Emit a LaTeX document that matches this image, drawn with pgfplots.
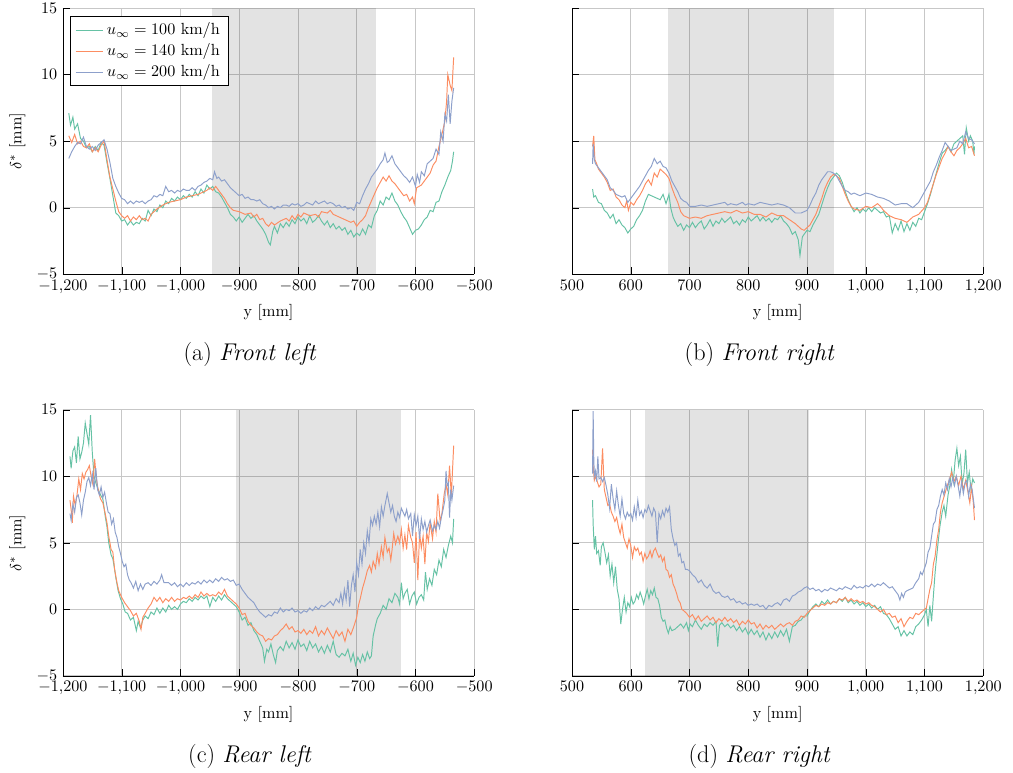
\documentclass[border=0pt]{standalone}
\usepackage{pgfplots}
\pgfplotsset{compat=1.18}
\definecolor{sga}{HTML}{66C2A5}
\definecolor{sgb}{HTML}{FC8D62}
\definecolor{sgc}{HTML}{8DA0CB}
\newcommand{\capfont}{\fontsize{15}{18}\selectfont}
\pgfplotsset{
  myax/.style={width=255pt, height=165pt, scale only axis,
    ymin=-5, ymax=15, ytick={-5,0,5,10,15},
    grid=major, major grid style={black!22, line width=0.5pt},
    axis x line*=bottom, axis y line*=left, axis line style={-},
    xlabel={y [mm]}, tick style={black}},
  c1/.style={color=sga, line width=0.6pt},
  c2/.style={color=sgb, line width=0.6pt},
  c3/.style={color=sgc, line width=0.6pt},
}
\begin{document}
\begin{tikzpicture}
\useasboundingbox (0,0) rectangle (628pt,-479pt);
% (a) Front left
\begin{axis}[myax, at={(39pt,-170pt)}, anchor=south west,
  xmin=-1200, xmax=-500, xtick={-1200,-1100,...,-500},
  ylabel={$\delta^*$ [mm]},
  legend style={at={(0.017,0.97)}, anchor=north west, draw=black, cells={anchor=west}, font=\normalsize}]
\fill[black, fill opacity=0.11] (axis cs:-947,-5) rectangle (axis cs:-667,15);
\addplot[c1] coordinates {(-1190,7.1)(-1187,6.2)(-1183,6.8)(-1180,5.9)(-1175,6.3)(-1170,5.2)(-1165,5.0)(-1160,4.5)(-1155,4.6)(-1150,4.2)(-1145,4.6)(-1140,4.3)(-1135,4.9)(-1130,4.7)(-1125,3.4)(-1120,2.2)(-1115,0.9)(-1110,-0.4)(-1105,-0.6)(-1100,-1.0)(-1095,-0.9)(-1090,-1.3)(-1085,-1.0)(-1080,-1.3)(-1075,-1.1)(-1070,-1.2)(-1065,-0.8)(-1060,-1.0)(-1055,-0.2)(-1050,-0.6)(-1045,-0.1)(-1040,-0.3)(-1035,0.2)(-1030,0.0)(-1025,0.5)(-1020,0.3)(-1015,0.7)(-1010,0.5)(-1005,0.8)(-1000,0.6)(-995,0.9)(-990,0.7)(-985,1.0)(-980,0.8)(-975,1.2)(-970,0.9)(-965,1.4)(-960,1.1)(-955,1.7)(-950,1.4)(-945,1.6)(-940,1.2)(-935,1.1)(-930,0.8)(-925,0.4)(-920,0.0)(-915,-0.5)(-910,-0.7)(-905,-1.0)(-900,-0.7)(-895,-1.1)(-890,-0.8)(-885,-0.5)(-880,-0.8)(-875,-0.6)(-870,-1.0)(-865,-1.3)(-860,-1.6)(-855,-2.0)(-850,-2.6)(-847,-2.8)(-843,-1.8)(-840,-1.4)(-835,-1.9)(-830,-1.2)(-825,-1.5)(-820,-1.1)(-815,-1.4)(-810,-0.9)(-805,-1.2)(-800,-0.7)(-795,-1.0)(-790,-0.8)(-785,-1.2)(-780,-0.6)(-775,-1.1)(-770,-0.9)(-765,-0.6)(-760,-1.0)(-755,-1.3)(-750,-1.0)(-745,-1.5)(-740,-1.2)(-735,-1.6)(-730,-1.4)(-725,-1.7)(-720,-1.5)(-715,-2.0)(-710,-1.7)(-705,-2.2)(-700,-1.9)(-695,-2.1)(-690,-1.6)(-685,-2.0)(-680,-1.3)(-675,-1.5)(-670,-0.6)(-665,-0.2)(-660,0.5)(-655,0.2)(-650,0.8)(-645,0.6)(-640,1.1)(-635,0.5)(-630,0.2)(-625,-0.3)(-620,-0.7)(-615,-1.0)(-610,-1.5)(-605,-2.0)(-600,-1.7)(-595,-1.6)(-590,-1.3)(-585,-0.9)(-580,-0.7)(-575,-0.2)(-570,-0.3)(-565,0.4)(-560,0.5)(-555,1.2)(-550,1.7)(-545,2.3)(-540,2.8)(-537,3.5)(-535,4.2)};
\addlegendentry{$u_\infty = 100$ km/h}
\addplot[c2] coordinates {(-1190,5.4)(-1185,4.9)(-1180,5.5)(-1175,4.8)(-1170,5.0)(-1165,4.6)(-1160,4.5)(-1155,4.8)(-1150,4.2)(-1145,4.5)(-1140,4.2)(-1135,4.7)(-1130,5.0)(-1125,3.6)(-1120,2.3)(-1115,1.4)(-1110,0.5)(-1105,-0.3)(-1100,-0.6)(-1095,-0.8)(-1090,-0.6)(-1085,-1.0)(-1080,-0.7)(-1075,-0.9)(-1070,-0.6)(-1065,-0.9)(-1060,-0.8)(-1055,-1.0)(-1050,-0.5)(-1045,-0.3)(-1040,-0.1)(-1030,0.2)(-1020,0.4)(-1010,0.5)(-1000,0.6)(-990,0.8)(-980,0.9)(-970,1.0)(-960,1.2)(-955,1.3)(-950,1.5)(-945,1.3)(-940,1.6)(-935,1.3)(-930,1.0)(-925,0.7)(-920,0.3)(-915,0.0)(-910,-0.2)(-900,-0.3)(-890,-0.5)(-880,-0.4)(-875,-0.7)(-870,-0.5)(-865,-0.9)(-860,-0.8)(-855,-1.2)(-850,-1.4)(-845,-1.1)(-840,-1.3)(-830,-1.0)(-820,-0.8)(-815,-1.0)(-810,-0.6)(-805,-0.9)(-800,-0.5)(-795,-0.7)(-790,-0.4)(-780,-0.6)(-770,-0.5)(-765,-0.7)(-760,-0.3)(-750,-0.4)(-745,-0.2)(-740,-0.5)(-730,-0.7)(-720,-0.9)(-710,-1.1)(-705,-1.0)(-700,-1.4)(-695,-1.1)(-690,-0.9)(-685,-0.6)(-680,0.0)(-675,0.5)(-670,1.0)(-665,1.5)(-660,1.9)(-655,2.3)(-650,2.0)(-645,2.4)(-640,2.0)(-635,1.8)(-630,1.5)(-625,1.2)(-620,0.9)(-615,1.0)(-610,0.5)(-605,0.8)(-602,0.3)(-598,1.5)(-590,1.7)(-585,2.0)(-580,2.3)(-575,2.6)(-570,3.2)(-565,3.5)(-560,4.6)(-555,5.5)(-550,6.5)(-547,8.0)(-545,10.0)(-541,9.2)(-538,8.8)(-535,11.3)};
\addlegendentry{$u_\infty = 140$ km/h}
\addplot[c3] coordinates {(-1190,3.7)(-1185,4.2)(-1180,4.6)(-1175,4.9)(-1170,4.8)(-1165,5.3)(-1160,4.6)(-1155,4.4)(-1150,4.6)(-1145,4.3)(-1140,4.7)(-1135,4.9)(-1130,5.1)(-1125,4.4)(-1120,3.4)(-1115,2.2)(-1110,1.6)(-1105,1.1)(-1100,0.7)(-1095,0.6)(-1090,0.3)(-1085,0.5)(-1080,0.3)(-1075,0.5)(-1070,0.4)(-1065,0.5)(-1060,0.3)(-1055,0.5)(-1050,0.6)(-1045,0.9)(-1040,0.8)(-1035,1.0)(-1030,0.9)(-1025,1.6)(-1020,1.2)(-1015,1.3)(-1010,1.1)(-1005,1.3)(-1000,1.2)(-995,1.4)(-990,1.3)(-985,1.3)(-980,1.5)(-975,1.3)(-970,1.6)(-965,1.7)(-960,1.9)(-955,2.0)(-950,2.2)(-945,2.1)(-942,2.7)(-938,2.2)(-935,2.3)(-930,2.0)(-925,2.1)(-920,1.8)(-915,1.5)(-910,1.3)(-905,1.1)(-900,0.9)(-895,1.0)(-890,0.7)(-885,0.8)(-880,0.6)(-875,0.6)(-870,0.5)(-865,0.6)(-860,0.3)(-855,0.2)(-850,0.0)(-845,0.1)(-840,-0.1)(-835,0.1)(-830,0.0)(-825,0.2)(-820,0.2)(-815,0.1)(-810,0.3)(-805,0.2)(-800,0.3)(-795,0.1)(-790,0.2)(-785,0.4)(-780,0.3)(-775,0.2)(-770,0.5)(-765,0.3)(-760,0.4)(-755,0.5)(-750,0.3)(-745,0.4)(-740,0.3)(-735,0.1)(-730,0.2)(-725,0.0)(-720,0.1)(-715,-0.1)(-710,0.0)(-705,-0.2)(-700,0.4)(-695,0.3)(-690,0.9)(-685,1.4)(-680,1.8)(-675,2.3)(-670,2.6)(-665,2.9)(-660,3.3)(-655,3.6)(-652,4.1)(-648,3.4)(-645,3.5)(-640,3.9)(-635,3.3)(-630,3.0)(-625,2.7)(-620,2.4)(-615,2.2)(-610,1.9)(-605,2.3)(-600,1.6)(-597,2.5)(-593,1.9)(-590,2.7)(-585,2.4)(-580,3.3)(-575,3.5)(-570,3.7)(-565,4.4)(-560,4.0)(-557,5.7)(-553,5.0)(-550,7.0)(-547,6.5)(-544,8.5)(-541,6.3)(-538,8.0)(-535,9.0)};
\addlegendentry{$u_\infty = 200$ km/h}
\end{axis}
% (b) Front right
\begin{axis}[myax, at={(354.6pt,-170pt)}, anchor=south west,
  xmin=500, xmax=1200, xtick={500,600,...,1200}, yticklabels={}]
\fill[black, fill opacity=0.11] (axis cs:664,-5) rectangle (axis cs:946,15);
\addplot[c1] coordinates {(535,1.4)(537,0.8)(540,0.9)(545,0.4)(550,0.3)(555,-0.2)(560,-0.4)(565,-0.8)(570,-0.5)(575,-1.2)(580,-0.9)(585,-1.3)(590,-1.5)(595,-1.9)(600,-1.6)(605,-1.4)(610,-0.9)(615,-0.6)(620,-0.2)(625,0.5)(630,1.0)(640,0.8)(650,0.6)(655,1.0)(660,0.3)(665,1.0)(668,0.0)(672,-0.7)(675,-1.0)(680,-1.4)(685,-1.2)(690,-1.7)(695,-1.3)(700,-1.5)(705,-1.1)(710,-1.5)(715,-1.2)(720,-1.0)(725,-1.6)(730,-1.3)(735,-0.9)(740,-1.4)(745,-1.0)(750,-1.2)(755,-0.8)(760,-1.1)(765,-0.9)(770,-0.7)(775,-1.2)(780,-1.0)(785,-1.3)(790,-0.9)(795,-1.1)(800,-0.7)(805,-1.0)(810,-0.8)(815,-0.6)(820,-1.0)(825,-0.7)(830,-1.0)(835,-0.8)(840,-1.1)(845,-0.8)(850,-0.9)(855,-0.6)(860,-1.0)(865,-1.2)(870,-1.5)(875,-2.0)(880,-1.8)(885,-2.4)(888,-3.6)(892,-2.2)(895,-2.0)(900,-1.7)(905,-1.8)(910,-1.3)(915,-0.9)(920,-0.5)(925,0.2)(930,0.9)(935,1.5)(940,2.0)(945,2.3)(950,2.6)(955,2.4)(960,1.9)(965,1.2)(970,0.6)(975,0.1)(980,-0.3)(985,0.0)(990,-0.4)(995,-0.1)(1000,-0.3)(1005,0.0)(1010,-0.3)(1015,0.0)(1020,-0.2)(1025,-0.4)(1030,-0.3)(1035,-0.7)(1040,-0.6)(1045,-1.9)(1050,-1.2)(1055,-1.7)(1060,-1.0)(1065,-1.8)(1070,-1.2)(1075,-1.7)(1080,-1.1)(1085,-1.4)(1090,-0.8)(1095,-0.9)(1100,-0.3)(1105,0.3)(1110,1.0)(1115,1.8)(1120,2.6)(1125,3.4)(1130,4.1)(1135,4.3)(1140,4.6)(1145,4.2)(1150,4.8)(1155,5.0)(1160,5.2)(1165,5.4)(1168,4.0)(1171,6.0)(1175,5.0)(1178,5.4)(1182,5.0)(1184,4.0)(1185,4.6)};
\addplot[c2] coordinates {(535,4.6)(537,5.4)(539,3.6)(542,3.3)(545,2.9)(550,2.6)(555,2.3)(560,1.9)(565,1.3)(570,1.4)(575,0.8)(580,0.6)(585,0.2)(590,0.0)(593,0.5)(596,-0.2)(600,0.4)(605,0.2)(610,0.6)(615,0.9)(620,1.3)(625,1.8)(630,2.1)(635,1.7)(640,2.6)(645,2.3)(650,2.9)(655,2.7)(660,2.5)(665,2.2)(670,1.5)(675,0.9)(680,0.4)(685,-0.3)(690,-0.6)(700,-0.8)(710,-0.7)(720,-0.8)(730,-0.6)(740,-0.5)(750,-0.4)(760,-0.3)(770,-0.4)(780,-0.2)(790,-0.4)(800,-0.3)(810,-0.5)(820,-0.5)(830,-0.7)(840,-0.4)(850,-0.6)(860,-0.6)(870,-0.9)(880,-1.2)(890,-1.6)(895,-1.7)(900,-1.5)(905,-1.3)(910,-0.9)(915,-0.5)(920,0.1)(925,0.7)(930,1.4)(935,1.9)(940,2.3)(945,2.5)(950,2.4)(955,2.2)(960,1.6)(965,1.0)(970,0.5)(975,0.1)(980,-0.1)(990,-0.2)(1000,0.1)(1010,0.0)(1020,0.3)(1025,0.1)(1030,-0.2)(1040,-0.6)(1050,-0.8)(1060,-0.9)(1070,-1.1)(1080,-0.7)(1090,-0.5)(1100,0.0)(1105,0.4)(1110,1.1)(1115,1.8)(1120,2.5)(1125,3.1)(1130,3.7)(1135,4.1)(1140,4.6)(1145,4.2)(1150,3.9)(1155,4.3)(1160,4.5)(1165,4.8)(1170,5.2)(1175,4.5)(1180,4.6)(1185,3.9)};
\addplot[c3] coordinates {(535,3.3)(536,4.8)(538,3.6)(540,3.3)(545,3.0)(550,2.7)(555,2.4)(560,2.1)(565,1.5)(570,1.3)(575,1.0)(580,0.9)(585,0.8)(590,0.9)(595,0.4)(600,0.7)(605,1.0)(610,1.3)(615,1.6)(620,2.0)(625,2.4)(630,2.8)(635,3.1)(640,3.7)(645,3.3)(650,3.5)(655,3.1)(660,3.0)(665,2.6)(670,2.0)(675,1.6)(680,1.2)(685,0.7)(690,0.5)(695,0.4)(700,0.1)(710,0.1)(720,0.2)(730,0.1)(740,0.2)(750,0.3)(760,0.4)(765,0.2)(770,0.3)(780,0.2)(790,0.4)(795,0.2)(800,0.3)(810,0.2)(820,0.4)(830,0.3)(840,0.2)(850,0.3)(860,0.2)(870,0.0)(880,-0.4)(890,-0.4)(900,-0.2)(905,0.2)(910,0.7)(915,1.1)(920,1.7)(925,2.1)(930,2.4)(935,2.7)(940,2.7)(945,2.6)(950,2.4)(955,2.0)(960,1.6)(965,1.3)(970,1.2)(975,1.0)(980,1.1)(990,0.9)(1000,1.1)(1010,1.0)(1020,0.8)(1030,0.7)(1040,0.5)(1050,0.2)(1060,0.3)(1070,0.3)(1080,0.0)(1090,0.4)(1095,0.8)(1100,1.2)(1105,1.6)(1110,2.0)(1115,2.7)(1120,3.2)(1125,3.8)(1130,4.3)(1135,4.9)(1140,4.6)(1145,4.3)(1150,4.4)(1155,4.5)(1160,5.0)(1165,4.8)(1170,5.7)(1175,5.2)(1180,5.1)(1185,4.8)};
\end{axis}
% (c) Rear left
\begin{axis}[myax, at={(39pt,-419pt)}, anchor=south west,
  xmin=-1200, xmax=-500, xtick={-1200,-1100,...,-500},
  ylabel={$\delta^*$ [mm]}]
\fill[black, fill opacity=0.11] (axis cs:-906,-5) rectangle (axis cs:-624,15);
\addplot[c1] coordinates {(-1188,11.5)(-1186,10.6)(-1183,11.9)(-1180,12.2)(-1177,11.0)(-1174,13.0)(-1171,11.3)(-1168,11.8)(-1165,12.5)(-1162,14.0)(-1159,13.2)(-1156,12.4)(-1153,14.6)(-1150,11.8)(-1147,10.0)(-1144,9.5)(-1140,9.0)(-1136,8.6)(-1132,8.3)(-1128,7.0)(-1125,6.2)(-1122,5.0)(-1118,4.1)(-1115,3.8)(-1112,3.0)(-1110,2.4)(-1106,1.4)(-1102,0.8)(-1098,0.4)(-1094,-0.2)(-1090,-0.3)(-1085,-0.8)(-1080,-0.6)(-1075,-1.6)(-1072,-0.9)(-1068,-1.4)(-1064,-0.8)(-1060,-0.5)(-1055,-0.7)(-1050,-0.2)(-1045,-0.4)(-1040,0.1)(-1035,-0.3)(-1030,0.1)(-1025,-0.2)(-1020,0.3)(-1015,0.0)(-1010,0.2)(-1005,0.0)(-1000,0.4)(-995,0.6)(-990,0.5)(-985,0.8)(-980,0.6)(-975,0.9)(-970,0.7)(-965,1.0)(-960,0.8)(-955,1.0)(-950,0.2)(-945,0.9)(-940,0.6)(-935,1.0)(-930,0.7)(-925,1.1)(-920,0.8)(-915,0.6)(-910,0.4)(-905,0.2)(-900,-0.2)(-895,-0.8)(-890,-0.6)(-885,-1.2)(-880,-1.0)(-875,-1.6)(-870,-1.9)(-865,-2.4)(-860,-2.9)(-857,-3.9)(-853,-3.0)(-850,-3.2)(-846,-2.6)(-842,-3.4)(-838,-4.0)(-835,-3.1)(-830,-2.8)(-825,-3.1)(-820,-2.4)(-815,-2.9)(-810,-2.5)(-805,-3.0)(-800,-2.3)(-795,-2.8)(-790,-2.6)(-785,-3.1)(-780,-2.4)(-775,-2.9)(-770,-2.6)(-765,-3.2)(-760,-2.8)(-755,-3.3)(-750,-2.7)(-745,-3.2)(-740,-2.4)(-735,-3.4)(-730,-3.6)(-725,-3.3)(-720,-3.5)(-715,-3.0)(-710,-3.9)(-706,-3.3)(-702,-4.2)(-698,-3.6)(-694,-4.0)(-690,-3.4)(-686,-3.9)(-682,-3.2)(-678,-3.7)(-675,-3.5)(-672,-2.0)(-668,-1.2)(-665,-0.7)(-660,-0.3)(-655,0.3)(-650,0.0)(-645,0.8)(-640,0.5)(-635,1.2)(-630,0.9)(-627,0.4)(-624,2.0)(-621,0.8)(-618,1.2)(-614,1.5)(-610,0.4)(-606,1.0)(-602,1.3)(-598,0.4)(-594,0.9)(-590,1.1)(-586,0.7)(-583,2.8)(-580,1.5)(-576,2.3)(-572,1.8)(-568,3.0)(-564,2.6)(-560,3.7)(-556,3.2)(-552,4.5)(-548,3.9)(-544,4.8)(-540,5.5)(-537,5.0)(-535,6.8)};
\addplot[c2] coordinates {(-1188,8.2)(-1186,7.5)(-1184,6.5)(-1182,8.5)(-1179,7.8)(-1176,8.6)(-1173,9.8)(-1170,9.0)(-1167,10.2)(-1164,9.8)(-1161,10.3)(-1158,10.5)(-1155,10.8)(-1152,10.0)(-1149,9.4)(-1146,11.3)(-1143,9.8)(-1140,9.0)(-1136,8.3)(-1132,8.0)(-1128,7.2)(-1125,6.5)(-1122,5.5)(-1118,4.5)(-1115,4.3)(-1112,3.0)(-1108,2.0)(-1105,1.4)(-1100,0.9)(-1095,0.5)(-1090,0.2)(-1085,-0.1)(-1080,-0.5)(-1075,-0.3)(-1070,-0.9)(-1067,-1.5)(-1064,-0.6)(-1060,-0.3)(-1055,0.1)(-1050,0.4)(-1045,0.9)(-1040,0.6)(-1035,0.9)(-1030,0.5)(-1025,0.8)(-1020,0.6)(-1015,0.9)(-1010,0.6)(-1005,0.8)(-1000,0.7)(-995,0.9)(-990,0.8)(-985,1.0)(-980,0.8)(-975,1.1)(-970,0.9)(-965,1.3)(-960,1.0)(-955,1.2)(-950,1.0)(-945,1.1)(-940,1.0)(-935,1.3)(-930,1.1)(-925,1.5)(-920,1.0)(-915,0.8)(-910,0.6)(-905,0.4)(-900,0.1)(-895,-0.4)(-890,-0.3)(-885,-0.9)(-880,-1.2)(-875,-1.4)(-870,-1.7)(-865,-1.9)(-860,-2.0)(-855,-2.4)(-850,-2.2)(-845,-2.3)(-840,-2.0)(-835,-1.9)(-830,-1.6)(-825,-1.4)(-820,-1.1)(-815,-1.5)(-810,-1.3)(-805,-1.7)(-800,-1.6)(-795,-1.8)(-790,-1.5)(-785,-1.9)(-780,-1.6)(-775,-1.8)(-770,-1.3)(-765,-2.0)(-760,-1.6)(-755,-1.9)(-750,-1.4)(-745,-1.8)(-740,-2.2)(-735,-1.6)(-730,-2.0)(-725,-1.7)(-720,-2.4)(-715,-1.5)(-710,-1.9)(-705,-1.3)(-700,-0.6)(-697,0.3)(-694,0.8)(-690,1.6)(-686,2.2)(-682,2.9)(-678,3.3)(-675,2.8)(-672,3.6)(-668,3.1)(-665,4.2)(-662,3.4)(-658,4.7)(-655,3.9)(-652,5.4)(-648,4.3)(-645,4.6)(-642,3.7)(-640,4.4)(-637,5.7)(-634,4.9)(-630,5.5)(-627,5.0)(-624,6.0)(-621,4.6)(-618,5.6)(-615,4.5)(-612,6.3)(-608,5.4)(-605,5.0)(-602,3.5)(-599,5.8)(-596,2.2)(-593,5.7)(-590,4.6)(-587,5.5)(-584,3.4)(-581,5.8)(-578,5.1)(-575,6.5)(-571,5.3)(-568,6.6)(-565,5.8)(-562,8.7)(-558,6.6)(-555,7.2)(-551,8.7)(-548,9.4)(-545,8.6)(-542,10.8)(-539,8.5)(-537,10.4)(-535,12.3)};
\addplot[c3] coordinates {(-1188,7.2)(-1186,6.7)(-1183,7.9)(-1180,7.3)(-1177,8.4)(-1174,8.6)(-1171,8.0)(-1168,7.1)(-1165,8.2)(-1162,8.8)(-1159,9.6)(-1156,9.9)(-1153,9.3)(-1150,10.2)(-1147,9.0)(-1144,10.6)(-1141,9.0)(-1138,8.6)(-1135,9.2)(-1132,8.4)(-1129,8.8)(-1126,8.0)(-1123,7.3)(-1120,7.2)(-1117,6.4)(-1114,6.8)(-1111,5.8)(-1108,5.4)(-1105,4.7)(-1102,4.2)(-1099,3.6)(-1096,3.2)(-1093,3.4)(-1090,2.6)(-1087,2.2)(-1084,2.0)(-1080,1.6)(-1076,2.1)(-1072,1.4)(-1068,1.9)(-1064,1.5)(-1060,1.9)(-1055,2.0)(-1050,1.8)(-1045,2.1)(-1040,1.9)(-1035,2.2)(-1032,2.6)(-1028,2.0)(-1020,2.0)(-1015,1.8)(-1010,2.0)(-1005,1.7)(-1000,1.9)(-995,1.7)(-990,2.0)(-985,1.8)(-980,2.0)(-975,1.9)(-970,2.1)(-965,1.9)(-960,2.2)(-955,2.0)(-950,2.2)(-945,2.0)(-940,2.3)(-935,2.1)(-930,2.4)(-925,2.2)(-920,2.3)(-915,2.1)(-910,2.2)(-905,1.8)(-900,1.9)(-895,1.5)(-890,1.2)(-885,0.9)(-880,0.7)(-875,0.5)(-870,0.1)(-865,-0.2)(-860,-0.4)(-855,-0.6)(-850,-0.4)(-845,-0.5)(-840,-0.2)(-835,-0.3)(-830,0.1)(-825,-0.2)(-820,0.0)(-815,-0.1)(-810,0.1)(-805,-0.2)(-800,-0.1)(-795,-0.3)(-790,-0.1)(-785,-0.2)(-780,0.1)(-775,-0.1)(-770,0.2)(-765,0.0)(-760,0.3)(-755,0.2)(-750,0.4)(-745,0.6)(-740,0.3)(-735,0.8)(-730,0.5)(-727,1.2)(-724,0.4)(-721,1.5)(-718,0.7)(-715,2.2)(-712,0.2)(-709,1.8)(-706,2.6)(-703,1.3)(-700,3.5)(-697,2.6)(-694,4.5)(-691,3.4)(-688,5.0)(-685,4.2)(-682,5.9)(-679,5.0)(-676,6.8)(-673,6.3)(-670,7.0)(-667,6.4)(-664,7.3)(-661,6.2)(-658,7.7)(-655,7.0)(-652,7.8)(-648,8.7)(-645,8.0)(-642,7.3)(-639,7.8)(-636,7.0)(-633,6.6)(-630,7.3)(-627,6.9)(-624,7.6)(-621,7.3)(-618,7.0)(-615,7.5)(-612,6.8)(-608,7.2)(-605,5.5)(-602,7.1)(-599,6.3)(-596,7.0)(-593,5.3)(-590,6.8)(-587,6.0)(-584,6.6)(-581,5.8)(-578,6.3)(-575,6.7)(-571,5.9)(-568,6.3)(-565,6.0)(-562,6.6)(-559,6.1)(-556,6.9)(-553,7.5)(-550,8.2)(-548,10.4)(-546,9.3)(-544,9.5)(-542,6.9)(-540,9.0)(-538,8.2)(-535,9.3)};
\end{axis}
% (d) Rear right
\begin{axis}[myax, at={(354.6pt,-419pt)}, anchor=south west,
  xmin=500, xmax=1200, xtick={500,600,...,1200}, yticklabels={}]
\fill[black, fill opacity=0.11] (axis cs:625,-5) rectangle (axis cs:904,15);
\addplot[c1] coordinates {(535,8.2)(536,6.4)(538,4.5)(540,5.5)(542,4.2)(545,4.4)(548,3.3)(550,4.7)(553,5.0)(556,4.3)(559,3.5)(562,4.1)(565,2.5)(568,3.4)(571,2.0)(574,3.2)(577,1.5)(580,0.8)(583,-1.1)(586,0.0)(589,0.9)(592,-0.2)(595,0.5)(598,0.2)(601,0.9)(604,0.4)(607,0.6)(610,1.1)(613,0.8)(616,1.3)(619,0.9)(622,0.4)(625,1.0)(628,1.5)(631,0.8)(634,1.4)(637,1.1)(640,1.6)(643,0.9)(646,0.8)(649,0.3)(652,-0.6)(655,-0.9)(658,-0.8)(661,-1.4)(664,-1.8)(667,-1.3)(670,-1.6)(675,-1.5)(680,-1.3)(685,-1.1)(690,-1.4)(695,-1.0)(698,-1.6)(701,-1.1)(705,-1.3)(710,-0.8)(715,-1.2)(720,-1.5)(725,-1.1)(730,-1.3)(735,-1.0)(740,-1.2)(745,-0.9)(748,-2.8)(751,-1.2)(755,-1.0)(760,-1.3)(765,-1.1)(770,-1.4)(775,-1.2)(780,-1.6)(785,-1.3)(790,-1.7)(795,-1.4)(800,-1.9)(805,-1.5)(810,-1.9)(815,-1.6)(820,-2.1)(825,-1.7)(830,-2.3)(835,-1.8)(840,-2.2)(845,-1.7)(850,-2.1)(855,-1.6)(860,-2.0)(865,-1.5)(870,-2.4)(875,-1.3)(880,-1.2)(885,-0.9)(890,-0.8)(895,-0.5)(900,-0.5)(905,-0.1)(910,0.2)(915,0.4)(920,0.2)(925,0.6)(930,0.4)(935,0.7)(940,0.4)(945,0.6)(950,0.5)(955,0.8)(960,0.6)(965,0.9)(970,0.5)(975,0.7)(980,0.4)(985,0.6)(990,0.3)(995,0.5)(1000,0.2)(1005,0.4)(1010,0.1)(1015,0.3)(1020,0.0)(1025,0.2)(1030,-0.3)(1035,-0.4)(1040,-0.7)(1045,-1.1)(1050,-1.5)(1055,-1.3)(1060,-2.0)(1065,-1.6)(1070,-2.0)(1075,-1.7)(1080,-1.9)(1085,-1.3)(1090,-1.1)(1095,-0.8)(1100,-0.4)(1103,0.0)(1106,-1.3)(1109,0.3)(1112,-0.9)(1115,1.0)(1118,2.8)(1120,3.7)(1123,5.0)(1126,6.2)(1130,7.3)(1133,7.8)(1136,7.0)(1140,8.6)(1143,9.3)(1146,10.5)(1149,9.6)(1152,11.2)(1155,12.1)(1158,10.8)(1161,11.5)(1164,9.4)(1167,10.2)(1170,12.0)(1173,9.5)(1176,10.3)(1179,9.0)(1182,9.8)(1185,9.5)};
\addplot[c2] coordinates {(535,12.0)(536,10.8)(538,9.7)(540,10.0)(543,9.6)(546,9.2)(549,9.4)(552,12.1)(555,9.0)(558,8.4)(561,7.8)(564,7.9)(567,7.3)(570,7.0)(573,6.6)(576,6.9)(579,6.2)(582,5.7)(585,6.4)(588,5.4)(591,5.0)(594,4.6)(597,5.3)(600,4.8)(603,3.9)(606,4.7)(609,4.4)(612,4.6)(615,4.1)(618,4.3)(621,3.6)(624,4.2)(627,3.8)(630,4.0)(633,4.4)(636,3.9)(639,4.4)(642,4.6)(645,4.2)(648,3.9)(651,4.1)(654,3.6)(657,3.9)(660,3.0)(663,2.9)(666,2.4)(669,2.6)(672,1.9)(675,1.6)(678,1.2)(681,0.7)(684,0.5)(687,0.0)(690,-0.1)(695,-0.3)(700,-0.6)(705,-0.4)(710,-0.8)(715,-0.5)(720,-0.9)(725,-0.7)(730,-0.5)(735,-0.8)(740,-0.6)(745,-1.0)(750,-0.7)(755,-0.9)(760,-0.6)(765,-0.9)(770,-0.7)(775,-1.0)(780,-0.8)(785,-1.2)(790,-0.9)(795,-1.1)(800,-0.8)(805,-1.1)(810,-1.0)(815,-1.4)(820,-1.1)(825,-1.5)(830,-1.2)(835,-1.4)(840,-1.2)(845,-1.5)(850,-1.3)(855,-1.1)(860,-1.3)(865,-1.1)(870,-1.0)(875,-1.2)(880,-0.9)(885,-0.8)(890,-0.5)(895,-0.6)(900,-0.3)(905,-0.1)(910,0.1)(915,0.3)(920,0.2)(925,0.4)(930,0.3)(935,0.5)(940,0.4)(945,0.6)(950,0.5)(955,0.8)(960,0.7)(965,0.9)(970,0.6)(975,0.8)(980,0.6)(985,0.7)(990,0.5)(995,0.6)(1000,0.4)(1005,0.5)(1010,0.3)(1015,0.2)(1020,0.0)(1025,-0.2)(1030,0.0)(1035,-0.4)(1040,-0.3)(1045,-0.6)(1050,-0.5)(1055,-1.0)(1060,-0.7)(1065,-1.3)(1070,-0.9)(1075,-0.6)(1080,-0.7)(1085,-0.3)(1090,-0.4)(1095,-0.2)(1100,0.0)(1103,0.1)(1106,0.8)(1109,1.5)(1112,2.0)(1115,3.4)(1118,4.0)(1121,5.2)(1124,6.0)(1127,7.3)(1130,8.0)(1134,8.6)(1138,9.2)(1142,9.7)(1146,10.3)(1150,9.6)(1154,10.0)(1158,9.3)(1162,10.0)(1166,9.0)(1170,9.7)(1174,8.8)(1177,8.0)(1180,9.2)(1183,8.0)(1185,6.7)};
\addplot[c3] coordinates {(535,10.2)(536,14.9)(537,11.5)(538,10.0)(540,10.4)(542,9.6)(544,11.5)(546,9.8)(549,9.9)(552,9.6)(555,9.9)(558,9.3)(561,8.6)(564,7.6)(567,9.4)(570,8.3)(573,7.5)(576,8.9)(579,7.8)(582,7.0)(585,8.3)(588,7.2)(591,6.8)(594,7.3)(597,7.0)(600,7.2)(603,6.7)(606,7.7)(609,6.9)(612,8.2)(615,7.1)(618,7.4)(621,6.9)(624,7.5)(627,7.3)(630,7.8)(633,7.4)(636,7.0)(639,7.6)(642,7.3)(645,5.0)(648,7.2)(651,6.8)(654,7.4)(657,7.0)(660,7.6)(663,7.3)(666,7.7)(669,6.0)(672,5.3)(675,4.8)(678,5.0)(681,4.0)(684,4.2)(687,3.5)(690,3.6)(693,3.0)(696,3.0)(700,2.9)(705,2.6)(710,2.4)(715,2.0)(720,2.2)(725,1.8)(730,1.6)(735,1.9)(740,1.4)(745,1.2)(750,1.3)(755,1.0)(760,0.9)(765,1.0)(770,0.7)(775,0.8)(780,0.5)(785,0.6)(790,0.4)(795,0.5)(800,0.3)(805,0.4)(810,0.3)(815,0.4)(820,0.2)(825,0.3)(830,0.0)(835,0.3)(840,0.2)(845,0.4)(850,0.5)(855,0.3)(860,0.7)(865,0.8)(870,0.6)(875,1.0)(880,1.1)(885,1.3)(890,1.4)(895,1.6)(900,1.7)(905,1.5)(910,1.6)(915,1.4)(920,1.5)(925,1.3)(930,1.5)(935,1.4)(940,1.6)(945,1.5)(950,1.4)(955,1.6)(960,1.5)(965,1.7)(970,1.6)(975,1.5)(980,1.8)(985,1.6)(990,1.7)(995,1.6)(1000,1.8)(1005,1.7)(1010,1.9)(1015,1.7)(1020,1.9)(1025,1.8)(1030,2.0)(1035,1.8)(1040,1.6)(1045,1.7)(1050,1.4)(1055,1.1)(1058,0.7)(1061,1.2)(1064,0.9)(1067,1.3)(1070,1.4)(1075,1.5)(1080,1.6)(1085,2.0)(1090,2.3)(1093,2.8)(1096,2.6)(1100,3.1)(1103,3.5)(1106,4.3)(1109,4.6)(1112,5.5)(1115,6.4)(1118,6.6)(1121,7.5)(1124,7.8)(1127,8.5)(1130,9.0)(1133,8.6)(1136,9.5)(1139,9.0)(1142,9.8)(1145,9.2)(1148,9.9)(1151,9.3)(1154,10.0)(1157,9.3)(1160,8.5)(1163,9.6)(1166,8.7)(1169,9.5)(1172,9.7)(1175,8.5)(1178,9.4)(1181,9.0)(1185,7.6)};
\end{axis}
\node[font=\capfont] at (155pt,-220pt) {(a)\ \textit{Front left}};
\node[font=\capfont] at (471pt,-220pt) {(b)\ \textit{Front right}};
\node[font=\capfont] at (155pt,-469pt) {(c)\ \textit{Rear left}};
\node[font=\capfont] at (471pt,-469pt) {(d)\ \textit{Rear right}};
\end{tikzpicture}
\end{document}
